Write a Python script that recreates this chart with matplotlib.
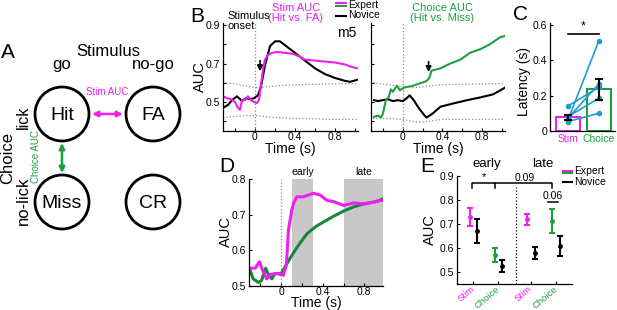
import numpy as np
import matplotlib
matplotlib.use("Agg")
import matplotlib.pyplot as plt
from matplotlib.patches import Circle, FancyArrowPatch

plt.rcParams.update({
    "font.family": ["Liberation Sans", "DejaVu Sans"],
    "font.size": 8,
    "axes.linewidth": 0.9,
    "xtick.direction": "in",
    "ytick.direction": "in",
    "xtick.major.size": 2.5,
    "ytick.major.size": 2.5,
    "xtick.major.pad": 0.8,
    "ytick.major.pad": 2,
    "xtick.labelsize": 7.5,
    "ytick.labelsize": 7.5,
    "axes.spines.top": False,
    "axes.spines.right": False,
})

MAGENTA = "#f01ef0"
GREEN = "#1f9e3e"
GREEN_D = "#17883a"
BLUE = "#1e9ad6"
SHADE = "#c8c8c8"
DOT = "#8c8c8c"

# ---- B: stim AUC (Hit vs FA), mouse m5
b_stim_t_nov = [-0.32, -0.27, -0.23, -0.18, -0.13, -0.09, -0.05, -0.01, 0.03, 0.06, 0.1,
                0.15, 0.2, 0.25, 0.3, 0.4, 0.5, 0.6, 0.7, 0.8, 0.9, 0.95, 1.02]
b_stim_nov = [0.47, 0.485, 0.51, 0.53, 0.505, 0.52, 0.515, 0.52, 0.535, 0.58, 0.69,
              0.79, 0.815, 0.815, 0.795, 0.755, 0.715, 0.675, 0.645, 0.625, 0.61, 0.605, 0.615]
b_stim_t_exp = [-0.32, -0.28, -0.24, -0.2, -0.17, -0.15, -0.13, -0.1, -0.07, -0.04, -0.01,
                0.02, 0.04, 0.06, 0.08, 0.1, 0.13, 0.17, 0.22, 0.3, 0.38, 0.45, 0.5, 0.6,
                0.7, 0.8, 0.9, 0.95, 1.02]
b_stim_exp = [0.53, 0.52, 0.515, 0.5, 0.47, 0.46, 0.51, 0.51, 0.53, 0.51, 0.5,
              0.495, 0.51, 0.59, 0.67, 0.72, 0.745, 0.755, 0.76, 0.755, 0.75, 0.735, 0.72, 0.715,
              0.71, 0.705, 0.695, 0.685, 0.675]
b_stim_t_chance = [-0.32, -0.2, -0.1, 0.0, 0.1, 0.2, 0.4, 0.6, 0.8, 1.02]
b_stim_hi = [0.6, 0.595, 0.585, 0.575, 0.578, 0.583, 0.59, 0.592, 0.595, 0.595]
b_stim_lo = [0.42, 0.425, 0.43, 0.43, 0.425, 0.42, 0.415, 0.413, 0.41, 0.41]

# ---- B: choice AUC (Hit vs Miss)
b_ch_t_exp = [-0.29, -0.25, -0.22, -0.2, -0.17, -0.14, -0.12, -0.1, -0.06, -0.03, 0.02,
              0.09, 0.15, 0.24, 0.27, 0.29, 0.38, 0.48, 0.58, 0.68, 0.78, 0.88, 0.98, 1.03]
b_ch_exp = [0.424, 0.43, 0.42, 0.44, 0.51, 0.528, 0.566, 0.553, 0.585, 0.562, 0.576,
            0.583, 0.593, 0.609, 0.628, 0.663, 0.675, 0.7, 0.72, 0.756, 0.774, 0.8, 0.836, 0.843]
b_ch_t_nov = [-0.29, -0.25, -0.2, -0.15, -0.1, -0.05, 0.0, 0.04, 0.07, 0.11, 0.16, 0.22,
              0.24, 0.3, 0.38, 0.51, 0.65, 0.78, 0.91, 0.98, 1.03]
b_ch_nov = [0.51, 0.505, 0.51, 0.515, 0.505, 0.51, 0.505, 0.52, 0.535, 0.51, 0.47, 0.43,
            0.42, 0.44, 0.476, 0.493, 0.51, 0.524, 0.54, 0.56, 0.575]
b_ch_t_chance = [-0.3, -0.15, 0.0, 0.15, 0.25, 0.4, 0.6, 0.8, 1.03]
b_ch_hi = [0.6, 0.59, 0.58, 0.575, 0.583, 0.59, 0.592, 0.595, 0.595]
b_ch_lo = [0.415, 0.415, 0.41, 0.395, 0.4, 0.41, 0.41, 0.41, 0.41]
b_arrow_t = [0.05, 0.26]
b_arrow_y = [0.66, 0.655]

# ---- C: latency per mouse
c_labels = ["Stim", "Choice"]
c_mean = [0.077, 0.235]
c_sem = [0.015, 0.06]
c_stim_pts = [0.141, 0.062, 0.072, 0.081, 0.053]
c_choice_pts = [0.247, 0.51, 0.266, 0.185, 0.1]

# ---- D: population AUC (expert)
d_t_stim = [-0.3, -0.25, -0.21, -0.18, -0.14, -0.1, -0.04, 0.02, 0.05, 0.07, 0.1, 0.12,
            0.15, 0.21, 0.31, 0.375, 0.44, 0.5, 0.6, 0.7, 0.79, 0.89, 0.95, 0.98]
d_stim = [0.55, 0.55, 0.568, 0.545, 0.52, 0.533, 0.535, 0.53, 0.56, 0.657, 0.71, 0.733,
          0.75, 0.75, 0.76, 0.755, 0.74, 0.737, 0.726, 0.733, 0.73, 0.735, 0.74, 0.74]
d_t_choice = [-0.3, -0.27, -0.22, -0.19, -0.15, -0.12, -0.09, -0.06, 0.0, 0.04, 0.1, 0.18,
              0.25, 0.33, 0.41, 0.5, 0.6, 0.7, 0.79, 0.89, 0.95, 0.98]
d_choice = [0.545, 0.52, 0.51, 0.515, 0.55, 0.53, 0.52, 0.535, 0.535, 0.555, 0.585, 0.62,
            0.647, 0.666, 0.68, 0.695, 0.71, 0.722, 0.73, 0.735, 0.74, 0.745]
d_early = (0.1, 0.31)
d_late = (0.6, 0.98)

# ---- E: mean AUC in windows (Stim early, Choice early, Stim late, Choice late)
e_labels = ["Stim", "Choice", "Stim", "Choice"]
e_exp = [0.73, 0.57, 0.72, 0.714]
e_exp_err = [0.038, 0.028, 0.023, 0.05]
e_nov = [0.67, 0.523, 0.58, 0.61]
e_nov_err = [0.05, 0.025, 0.025, 0.042]

W, H = 617, 310
fig = plt.figure(figsize=(W / 100, H / 100), dpi=100)
ov = fig.add_axes([0, 0, 1, 1])
ov.set_xlim(0, W)
ov.set_ylim(H, 0)
ov.axis("off")
ov.set_zorder(5)


def rect(x0, y0, x1, y1):
    return [x0 / W, 1 - y1 / H, (x1 - x0) / W, (y1 - y0) / H]


# ---------------- panel A (diagram)
for (cx, cy), name in zip([(62, 114), (153, 114), (62, 202), (153, 202)],
                          ["Hit", "FA", "Miss", "CR"]):
    ov.add_patch(Circle((cx, cy), 27, fill=False, lw=2, ec="k"))
    ov.text(cx, cy + 1, name, ha="center", va="center", fontsize=14)
ov.text(108, 51, "Stimulus", ha="center", va="center", fontsize=12)
ov.text(62, 65, "go", ha="center", va="center", fontsize=12)
ov.text(153, 65, "no-go", ha="center", va="center", fontsize=12)
ov.text(8, 158, "Choice", ha="center", va="center", fontsize=12, rotation=90)
ov.text(23, 117, "lick", ha="center", va="center", fontsize=11.5, rotation=90)
ov.text(23, 201, "no-lick", ha="center", va="center", fontsize=12, rotation=90)
ov.text(107, 92, "Stim AUC", ha="center", va="center", fontsize=7, color=MAGENTA)
ov.text(36, 157, "Choice AUC", ha="center", va="center", fontsize=7, color=GREEN,
        rotation=90)
ov.add_patch(FancyArrowPatch((92, 114), (123, 114), arrowstyle="<|-|>", color=MAGENTA,
                             lw=1.8, mutation_scale=8, shrinkA=0, shrinkB=0))
ov.add_patch(FancyArrowPatch((62, 143), (62, 173), arrowstyle="<|-|>", color=GREEN,
                             lw=1.8, mutation_scale=8, shrinkA=0, shrinkB=0))

# panel letters
for (x, y), s in zip([(8, 53), (197, 16), (521, 15), (227, 167), (427, 167)], "ABCDE"):
    ov.text(x, y, s, ha="center", va="center", fontsize=15)

# ---------------- panel B
axB1 = fig.add_axes(rect(223, 23, 358, 131))
axB2 = fig.add_axes(rect(371, 23, 505, 131))
for ax in (axB1, axB2):
    ax.set_xlim(-0.32, 1.03)
    ax.set_ylim(0.35, 0.91)
    ax.axvline(0, color=DOT, lw=0.9, ls=":")
    ax.set_xticks(np.round(np.arange(-0.2, 1.01, 0.2), 1),
                  ["", "0", "", "0.4", "", "0.8", ""])
    ax.set_yticks(np.round(np.arange(0.4, 0.91, 0.1), 1))
axB1.set_yticklabels(["", "0.5", "", "0.7", "", "0.9"])
axB2.set_yticklabels([])

axB1.plot(b_stim_t_chance, b_stim_hi, color=DOT, lw=0.9, ls=":")
axB1.plot(b_stim_t_chance, b_stim_lo, color=DOT, lw=0.9, ls=":")
axB1.plot(b_stim_t_nov, b_stim_nov, color="k", lw=1.5)
axB1.plot(b_stim_t_exp, b_stim_exp, color=MAGENTA, lw=1.5)
axB2.plot(b_ch_t_chance, b_ch_hi, color=DOT, lw=0.9, ls=":")
axB2.plot(b_ch_t_chance, b_ch_lo, color=DOT, lw=0.9, ls=":")
axB2.plot(b_ch_t_nov, b_ch_nov, color="k", lw=1.5)
axB2.plot(b_ch_t_exp, b_ch_exp, color=GREEN, lw=1.5)
for ax, t, y in zip((axB1, axB2), b_arrow_t, b_arrow_y):
    ax.annotate("", xy=(t, y), xytext=(t, y + 0.055),
                arrowprops=dict(arrowstyle="-|>", color="k", lw=1.2, mutation_scale=8,
                                shrinkA=0, shrinkB=0))

ov.text(200, 77, "AUC", ha="center", va="center", fontsize=10.5, rotation=90)
ov.text(290, 149, "Time (s)", ha="center", va="center", fontsize=10)
ov.text(438, 149, "Time (s)", ha="center", va="center", fontsize=10)
ov.text(227, 21, "Stimulus\nonset", ha="left", va="center", fontsize=8, linespacing=1.1)
ov.text(296, 13, "Stim AUC\n(Hit vs. FA)", ha="center", va="center", fontsize=8,
        color=MAGENTA, linespacing=1.1)
ov.text(442, 13, "Choice AUC\n(Hit vs. Miss)", ha="center", va="center", fontsize=8,
        color=GREEN, linespacing=1.1)
ov.text(347, 33, "m5", ha="center", va="center", fontsize=10)
# legend B
ov.plot([336, 346], [3.2, 3.2], color=MAGENTA, lw=1.5)
ov.plot([336, 346], [5.6, 5.6], color=GREEN, lw=1.5)
ov.text(348, 4.6, "Expert", ha="left", va="center", fontsize=7.5)
ov.plot([336, 346], [15.5, 15.5], color="k", lw=1.5)
ov.text(348, 15.5, "Novice", ha="left", va="center", fontsize=7.5)

# ---------------- panel C
axC = fig.add_axes(rect(550, 23, 615, 131))
xc = np.arange(1, len(c_labels) + 1)
axC.bar(xc, c_mean, width=0.8, facecolor="white", edgecolor=[MAGENTA, GREEN], lw=1.5)
for s, c in zip(c_stim_pts, c_choice_pts):
    axC.plot(xc, [s, c], color=BLUE, lw=1.2, marker="o", ms=3)
axC.errorbar(xc, c_mean, yerr=c_sem, fmt="none", ecolor="k", elinewidth=1.5, capsize=3,
             capthick=1.5)
axC.plot(xc, [0.55, 0.55], color="k", lw=1.2)
axC.text(xc.mean(), 0.555, "*", ha="center", va="bottom", fontsize=9)
axC.set_xlim(0.42, 2.52)
axC.set_ylim(0, 0.61)
axC.set_yticks([0, 0.2, 0.4, 0.6], ["0", "0.2", "0.4", "0.6"])
axC.set_xticks(xc, c_labels, fontsize=7.5)
axC.tick_params(axis="x", length=0, pad=2.5)
for lab, col in zip(axC.get_xticklabels(), [MAGENTA, GREEN]):
    lab.set_color(col)
ov.text(524, 82, "Latency (s)", ha="center", va="center", fontsize=10, rotation=90)

# ---------------- panel D
axD = fig.add_axes(rect(249, 179, 383, 286))
axD.axvspan(*d_early, color=SHADE, lw=0)
axD.axvspan(*d_late, color=SHADE, lw=0)
axD.axvline(0, color=DOT, lw=0.9, ls=":")
axD.plot(d_t_choice, d_choice, color=GREEN_D, lw=2.2)
axD.plot(d_t_stim, d_stim, color=MAGENTA, lw=2.2)
axD.set_xlim(-0.31, 0.98)
axD.set_ylim(0.5, 0.8)
axD.set_xticks(np.round(np.arange(-0.2, 0.81, 0.2), 1), ["", "0", "", "0.4", "", "0.8"])
axD.set_yticks([0.5, 0.6, 0.7, 0.8], ["0.5", "0.6", "0.7", "0.8"])
axD.text(np.mean(d_early), 0.805, "early", ha="center", va="bottom", fontsize=7.5)
axD.text(np.mean(d_late), 0.805, "late", ha="center", va="bottom", fontsize=7.5)
ov.text(226, 232, "AUC", ha="center", va="center", fontsize=10.5, rotation=90)
ov.text(316, 303, "Time (s)", ha="center", va="center", fontsize=10)

# ---------------- panel E
axE = fig.add_axes(rect(457, 176, 572, 284))
xe = np.array([1, 2, 3.3, 4.3])
exp_cols = [MAGENTA, GREEN, MAGENTA, GREEN]
for x, m, e, col in zip(xe, e_exp, e_exp_err, exp_cols):
    axE.errorbar(x - 0.15, m, yerr=e, fmt="o", color=col, ms=2.5, elinewidth=1.5,
                 capsize=2.5, capthick=1.5)
axE.errorbar(xe + 0.15, e_nov, yerr=e_nov_err, fmt="o", color="k", ms=2.5,
             elinewidth=1.5, capsize=2.5, capthick=1.5, ls="none")
axE.plot([2.7, 2.7], [0.45, 0.855], color="k", lw=0.9, ls=":")
# brackets
axE.plot([0.95, 0.95, 1.88, 1.88], [0.85, 0.872, 0.872, 0.85], color="k", lw=1.1,
         clip_on=False)
axE.plot([1.88, 4.15, 4.15], [0.872, 0.872, 0.85], color="k", lw=1.1, clip_on=False)
axE.text(1.4, 0.874, "*", ha="center", va="bottom", fontsize=8)
axE.text(3.05, 0.872, "0.09", ha="center", va="bottom", fontsize=7.5)
axE.plot([3.98, 4.38], [0.79, 0.79], color="k", lw=1.1)
axE.text(4.18, 0.795, "0.06", ha="center", va="bottom", fontsize=7.5)
axE.set_xlim(0.34, 4.94)
axE.set_ylim(0.45, 0.9)
axE.set_yticks([0.5, 0.6, 0.7, 0.8, 0.9], ["0.5", "0.6", "0.7", "0.8", "0.9"])
axE.set_xticks(xe, e_labels, rotation=40, ha="right", va="center",
               rotation_mode="anchor", fontsize=6.8)
axE.tick_params(axis="x", pad=3)
for lab, col in zip(axE.get_xticklabels(), exp_cols):
    lab.set_color(col)
ov.text(430, 230, "AUC", ha="center", va="center", fontsize=10.5, rotation=90)
ov.text(487, 164, "early", ha="center", va="center", fontsize=9.5)
ov.text(543, 164, "late", ha="center", va="center", fontsize=9.5)
ov.plot([563, 572], [170.5, 170.5], color=MAGENTA, lw=1.5)
ov.plot([563, 572], [173, 173], color=GREEN, lw=1.5)
ov.text(574, 171.5, "Expert", ha="left", va="center", fontsize=7.5)
ov.plot([563, 572], [182, 182], color="k", lw=1.5)
ov.text(574, 182, "Novice", ha="left", va="center", fontsize=7.5)

fig.savefig("out.png", dpi=100)
